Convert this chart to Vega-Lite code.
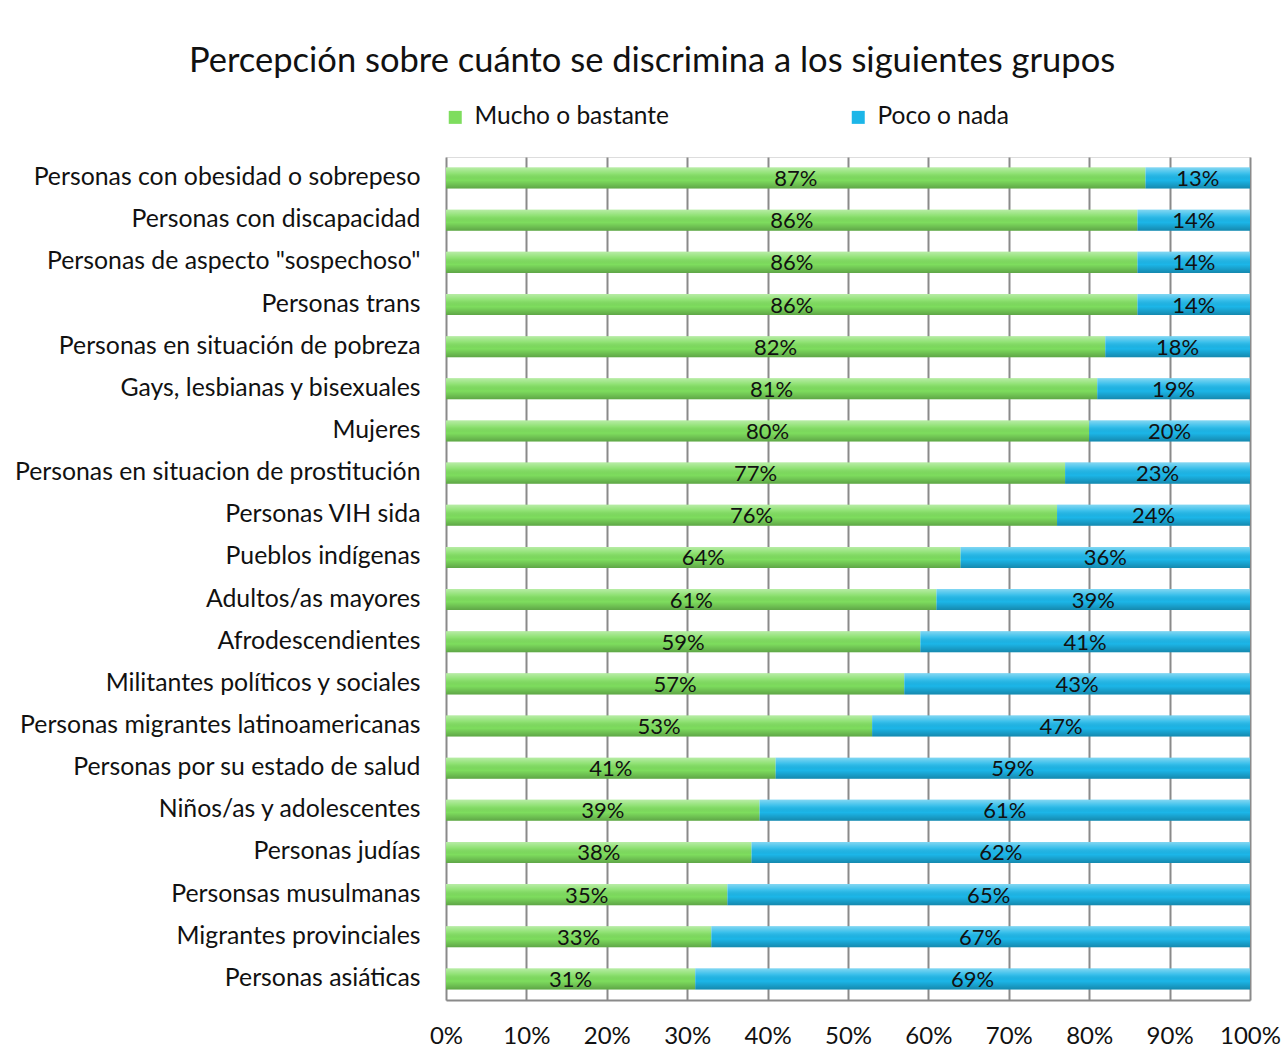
{
  "$schema": "https://vega.github.io/schema/vega-lite/v6.json",
  "width": 804,
  "height": 843,
  "autosize": "none",
  "padding": {"left": 446, "top": 157, "right": 36, "bottom": 55},
  "background": "white",
  "title": {
    "text": "Percepción sobre cuánto se discrimina a los siguientes grupos",
    "anchor": "start",
    "frame": "group",
    "dx": -257,
    "offset": 26,
    "font": "Lato",
    "fontSize": 34.5,
    "fontWeight": "normal",
    "color": "#111111"
  },
  "data": {
    "values": [
      {"group": "Personas con obesidad o sobrepeso", "cat": "Mucho o bastante", "ord": 1, "value": 0.87},
      {"group": "Personas con obesidad o sobrepeso", "cat": "Poco o nada", "ord": 2, "value": 0.13},
      {"group": "Personas con discapacidad", "cat": "Mucho o bastante", "ord": 1, "value": 0.86},
      {"group": "Personas con discapacidad", "cat": "Poco o nada", "ord": 2, "value": 0.14},
      {"group": "Personas de aspecto \"sospechoso\"", "cat": "Mucho o bastante", "ord": 1, "value": 0.86},
      {"group": "Personas de aspecto \"sospechoso\"", "cat": "Poco o nada", "ord": 2, "value": 0.14},
      {"group": "Personas trans", "cat": "Mucho o bastante", "ord": 1, "value": 0.86},
      {"group": "Personas trans", "cat": "Poco o nada", "ord": 2, "value": 0.14},
      {"group": "Personas en situación de pobreza", "cat": "Mucho o bastante", "ord": 1, "value": 0.82},
      {"group": "Personas en situación de pobreza", "cat": "Poco o nada", "ord": 2, "value": 0.18},
      {"group": "Gays, lesbianas y bisexuales", "cat": "Mucho o bastante", "ord": 1, "value": 0.81},
      {"group": "Gays, lesbianas y bisexuales", "cat": "Poco o nada", "ord": 2, "value": 0.19},
      {"group": "Mujeres", "cat": "Mucho o bastante", "ord": 1, "value": 0.80},
      {"group": "Mujeres", "cat": "Poco o nada", "ord": 2, "value": 0.20},
      {"group": "Personas en situacion de prostitución", "cat": "Mucho o bastante", "ord": 1, "value": 0.77},
      {"group": "Personas en situacion de prostitución", "cat": "Poco o nada", "ord": 2, "value": 0.23},
      {"group": "Personas VIH sida", "cat": "Mucho o bastante", "ord": 1, "value": 0.76},
      {"group": "Personas VIH sida", "cat": "Poco o nada", "ord": 2, "value": 0.24},
      {"group": "Pueblos indígenas", "cat": "Mucho o bastante", "ord": 1, "value": 0.64},
      {"group": "Pueblos indígenas", "cat": "Poco o nada", "ord": 2, "value": 0.36},
      {"group": "Adultos/as mayores", "cat": "Mucho o bastante", "ord": 1, "value": 0.61},
      {"group": "Adultos/as mayores", "cat": "Poco o nada", "ord": 2, "value": 0.39},
      {"group": "Afrodescendientes", "cat": "Mucho o bastante", "ord": 1, "value": 0.59},
      {"group": "Afrodescendientes", "cat": "Poco o nada", "ord": 2, "value": 0.41},
      {"group": "Militantes políticos y sociales", "cat": "Mucho o bastante", "ord": 1, "value": 0.57},
      {"group": "Militantes políticos y sociales", "cat": "Poco o nada", "ord": 2, "value": 0.43},
      {"group": "Personas migrantes latinoamericanas", "cat": "Mucho o bastante", "ord": 1, "value": 0.53},
      {"group": "Personas migrantes latinoamericanas", "cat": "Poco o nada", "ord": 2, "value": 0.47},
      {"group": "Personas por su estado de salud", "cat": "Mucho o bastante", "ord": 1, "value": 0.41},
      {"group": "Personas por su estado de salud", "cat": "Poco o nada", "ord": 2, "value": 0.59},
      {"group": "Niños/as y adolescentes", "cat": "Mucho o bastante", "ord": 1, "value": 0.39},
      {"group": "Niños/as y adolescentes", "cat": "Poco o nada", "ord": 2, "value": 0.61},
      {"group": "Personas judías", "cat": "Mucho o bastante", "ord": 1, "value": 0.38},
      {"group": "Personas judías", "cat": "Poco o nada", "ord": 2, "value": 0.62},
      {"group": "Personsas musulmanas", "cat": "Mucho o bastante", "ord": 1, "value": 0.35},
      {"group": "Personsas musulmanas", "cat": "Poco o nada", "ord": 2, "value": 0.65},
      {"group": "Migrantes provinciales", "cat": "Mucho o bastante", "ord": 1, "value": 0.33},
      {"group": "Migrantes provinciales", "cat": "Poco o nada", "ord": 2, "value": 0.67},
      {"group": "Personas asiáticas", "cat": "Mucho o bastante", "ord": 1, "value": 0.31},
      {"group": "Personas asiáticas", "cat": "Poco o nada", "ord": 2, "value": 0.69}
    ]
  },
  "transform": [
    {"stack": "value", "groupby": ["group"], "sort": [{"field": "ord", "order": "ascending"}], "as": ["v0", "v1"]}
  ],
  "encoding": {
    "y": {
      "field": "group",
      "type": "nominal",
      "sort": [
        "Personas con obesidad o sobrepeso",
        "Personas con discapacidad",
        "Personas de aspecto \"sospechoso\"",
        "Personas trans",
        "Personas en situación de pobreza",
        "Gays, lesbianas y bisexuales",
        "Mujeres",
        "Personas en situacion de prostitución",
        "Personas VIH sida",
        "Pueblos indígenas",
        "Adultos/as mayores",
        "Afrodescendientes",
        "Militantes políticos y sociales",
        "Personas migrantes latinoamericanas",
        "Personas por su estado de salud",
        "Niños/as y adolescentes",
        "Personas judías",
        "Personsas musulmanas",
        "Migrantes provinciales",
        "Personas asiáticas"
      ],
      "scale": {"paddingInner": 0.5, "paddingOuter": 0.25},
      "axis": {
        "title": null,
        "domain": false,
        "ticks": false,
        "labelPadding": 26,
        "labelFont": "Lato",
        "labelFontSize": 24.8,
        "labelColor": "#111111",
        "labelLimit": 600
      }
    }
  },
  "layer": [
    {
      "mark": {"type": "bar"},
      "encoding": {
        "x": {
          "field": "v0",
          "type": "quantitative",
          "scale": {"domain": [0, 1], "nice": false},
          "axis": {
            "title": null,
            "values": [0, 0.1, 0.2, 0.3, 0.4, 0.5, 0.6, 0.7, 0.8, 0.9, 1],
            "format": ".0%",
            "grid": true,
            "gridColor": "#8a8a8a",
            "gridWidth": 2,
            "domain": true,
            "domainColor": "#8a8a8a",
            "domainWidth": 2,
            "ticks": false,
            "labelPadding": 24,
            "labelFont": "Lato",
            "labelFontSize": 24,
            "labelColor": "#111111",
            "labelFlush": false
          }
        },
        "x2": {"field": "v1"},
        "color": {
          "field": "cat",
          "type": "nominal",
          "scale": {"domain": ["Mucho o bastante", "Poco o nada"], "range": ["#7edd5e", "#1cb6e8"]},
          "legend": {
            "title": null,
            "orient": "none",
            "legendX": -3,
            "legendY": -52,
            "direction": "horizontal",
            "symbolType": "square",
            "symbolSize": 169,
            "symbolStrokeWidth": 0,
            "labelFont": "Lato",
            "labelFontSize": 24.5,
            "labelColor": "#111111",
            "labelOffset": 7,
            "labelLimit": 400,
            "columnPadding": 176
          }
        }
      }
    },
    {
      "mark": {
        "type": "bar",
        "color": {
          "gradient": "linear",
          "x1": 0, "y1": 0, "x2": 0, "y2": 1,
          "stops": [
            {"offset": 0, "color": "rgba(255,255,255,0.45)"},
            {"offset": 0.3, "color": "rgba(255,255,255,0.12)"},
            {"offset": 0.6, "color": "rgba(0,0,0,0)"},
            {"offset": 1, "color": "rgba(0,0,0,0.25)"}
          ]
        }
      },
      "encoding": {
        "x": {"field": "v0", "type": "quantitative"},
        "x2": {"field": "v1"}
      }
    },
    {
      "transform": [
        {"fold": ["v0", "v1"], "as": ["edge", "pos"]},
        {"aggregate": [{"op": "mean", "field": "pos", "as": "mid"}], "groupby": ["group", "cat", "value"]}
      ],
      "mark": {"type": "text", "font": "Lato", "fontSize": 22, "color": "#111111", "baseline": "middle", "dy": 1},
      "encoding": {
        "x": {"field": "mid", "type": "quantitative"},
        "text": {"field": "value", "type": "quantitative", "format": ".0%"}
      }
    }
  ]
}
